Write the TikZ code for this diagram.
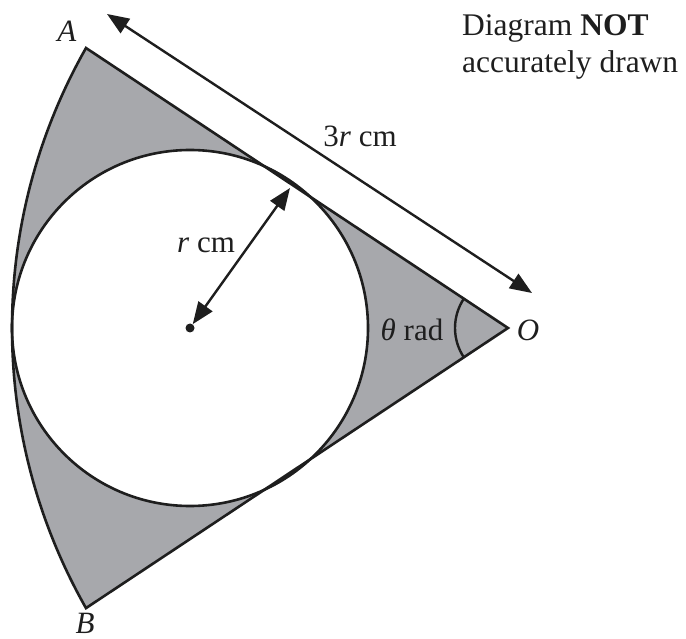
\documentclass[tikz,border=0pt]{standalone}
\usepackage{fontspec}
\setmainfont{Liberation Serif}
\usetikzlibrary{arrows.meta}
\definecolor{regiongray}{RGB}{167,168,172}
\definecolor{ink}{RGB}{30,30,30}
\begin{document}
\begin{tikzpicture}[x=1pt,y=1pt, line join=miter,
  edge/.style={line width=2.6pt, draw=ink},
  dim/.style={line width=2.4pt, draw=ink, {Triangle[length=22pt,width=17pt]}-{Triangle[length=22pt,width=17pt]}},
  lbl/.style={font=\fontsize{31}{31}\selectfont, inner sep=0pt, anchor=base, text=ink},
  note/.style={font=\fontsize{31.5}{37}\selectfont, inner sep=0pt, anchor=base west, text=ink}]
\useasboundingbox (0,0) rectangle (686,-639);
\coordinate (O) at (508,-328);
\coordinate (A) at (86,-48);
\coordinate (B) at (86,-608);
\coordinate (C) at (190,-328);
\coordinate (T) at (290,-188);
\coordinate (P) at (107,-14);
\coordinate (Q) at (532,-293);
% shaded region
\fill[fill=regiongray, even odd rule] (O) -- (A) arc[start angle=150.4, end angle=209.6, radius=567] -- cycle
  (C) circle[radius=178];
% sector outline
\draw[edge] (O) -- (A) arc[start angle=150.4, end angle=209.6, radius=567] -- cycle;
% inscribed circle
\draw[edge] (C) circle[radius=178];
% angle mark
\draw[edge, line width=2.4pt] ([shift={(146.43:53)}]O) arc[start angle=146.43, end angle=213.57, radius=53];
% centre dot
\node (dot) [circle, fill=ink, inner sep=0pt, minimum size=9pt] at (C) {};
% dimension arrows
\draw[dim] (P) -- (Q);
\draw[dim] (dot) -- (T);
% labels
\node[lbl] (lA) at (67,-42) {\textit{A}};
\node[lbl] (lB) at (85,-633.5) {\textit{B}};
\node[lbl] (lO) at (528,-341) {\textit{O}};
\node[lbl] (lth) at (412,-341) {\textit{θ} rad};
\node[lbl] (l3r) at (360,-147) {3\textit{r} cm};
\node[lbl] (lr) at (206,-253) {\textit{r} cm};
\node[note] (n1) at (462,-36) {Diagram \textbf{NOT}};
\node[note] (n2) at (462,-73) {accurately drawn};
\end{tikzpicture}
\end{document}
